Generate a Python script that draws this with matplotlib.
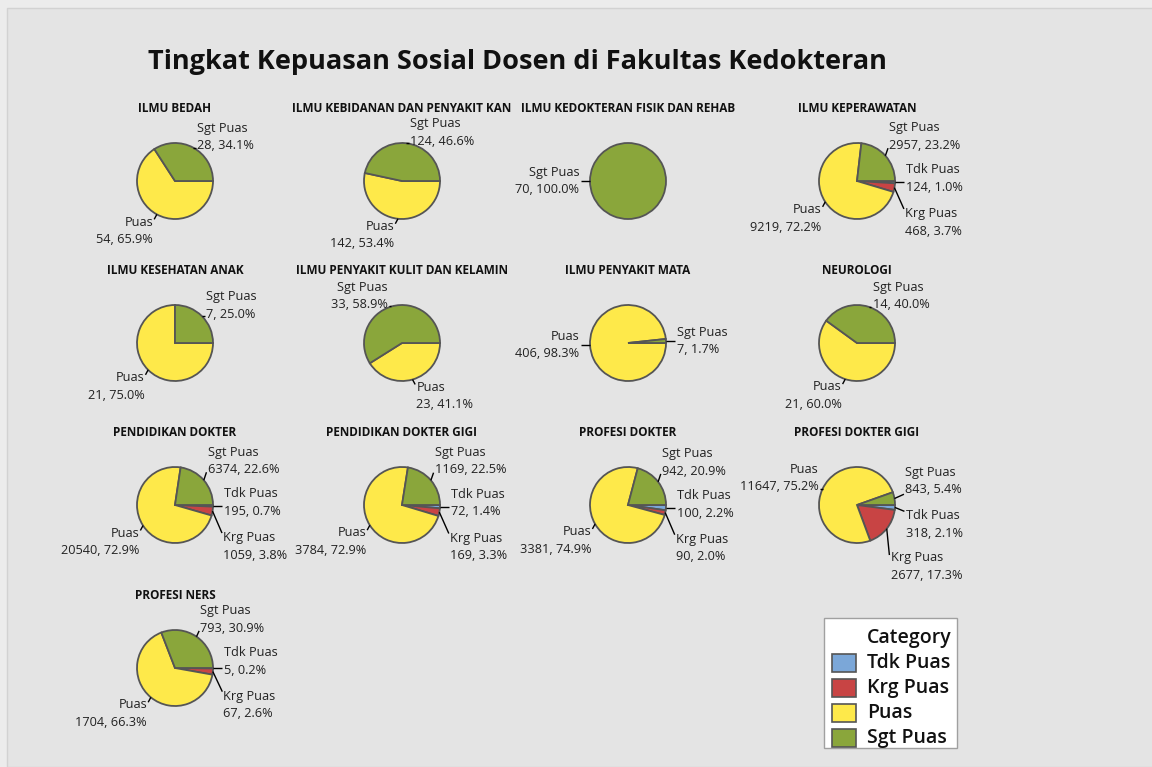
import numpy as np
import matplotlib.pyplot as plt
from matplotlib.patches import Rectangle

plt.rcParams['font.family'] = ['Open Sans', 'DejaVu Sans']

# data: counts per study program, category order Tdk, Krg, Puas, Sgt
programs = [
    "ILMU BEDAH", "ILMU KEBIDANAN DAN PENYAKIT KAN", "ILMU KEDOKTERAN FISIK DAN REHAB",
    "ILMU KEPERAWATAN", "ILMU KESEHATAN ANAK", "ILMU PENYAKIT KULIT DAN KELAMIN",
    "ILMU PENYAKIT MATA", "NEUROLOGI", "PENDIDIKAN DOKTER", "PENDIDIKAN DOKTER GIGI",
    "PROFESI DOKTER", "PROFESI DOKTER GIGI", "PROFESI NERS",
]
categories = ["Tdk Puas", "Krg Puas", "Puas", "Sgt Puas"]
tdk_puas = [0, 0, 0, 124, 0, 0, 0, 0, 195, 72, 100, 318, 5]
krg_puas = [0, 0, 0, 468, 0, 0, 0, 0, 1059, 169, 90, 2677, 67]
puas = [54, 142, 0, 9219, 21, 23, 406, 21, 20540, 3784, 3381, 11647, 1704]
sgt_puas = [28, 124, 70, 2957, 7, 33, 7, 14, 6374, 1169, 942, 843, 793]
colors = ["#7ba7d8", "#c84444", "#fee94a", "#8aa63b"]

W, H = 1152, 767
R = 38.0            # pie radius in px
AW, AH = 226, 162   # axes size in px
col_x = [175, 402, 628, 857]
row_y = [181, 343, 505, 668]
LABEL_FS = 9.2
BOX_H = 0.9
GAP = 0.25

fig = plt.figure(figsize=(W / 100, H / 100), dpi=100)
fig.patch.set_facecolor("#ececec")
fig.add_artist(Rectangle((7 / W, 0), 1, 1 - 8 / H, transform=fig.transFigure,
                         facecolor="#e4e4e4", edgecolor="#d2d2d2", lw=1, zorder=-5))

fig.text(517 / W, 1 - 62 / H, "Tingkat Kepuasan Sosial Dosen di Fakultas Kedokteran",
         ha="center", va="center", fontsize=19.5, fontweight="bold", color="#111111")


def draw_labels(ax, vals):
    total = float(sum(vals))
    items = []
    cum = 0.0
    for name, v in zip(categories, vals):
        if v == 0:
            continue
        frac = v / total
        mid = -(cum + frac / 2) * 2 * np.pi
        cum += frac
        c, s = np.cos(mid), np.sin(mid)
        side = 1 if c >= 0 else -1
        if s > 0.35:
            mode, x, y = "bottom", c + 0.1 * side, s - 0.12
            lo, hi = y, y + BOX_H
        elif s < -0.35:
            mode, x, y = "top", c + 0.1 * side, s - 0.03
            lo, hi = y - BOX_H, y
        else:
            mode, x, y = "center", c + 0.28 * side, s
            lo, hi = y - BOX_H / 2, y + BOX_H / 2
        txt = f"{name}\n{v}, {frac * 100:.1f}%"
        items.append(dict(txt=txt, c=c, s=s, side=side, mode=mode, x=x, y=y, lo=lo, hi=hi))

    # spread overlapping labels on each side
    for side in (1, -1):
        grp = sorted([it for it in items if it["side"] == side],
                     key=lambda it: -(it["lo"] + it["hi"]))
        for _ in range(60):
            for up, dn in zip(grp[:-1], grp[1:]):
                ov = dn["hi"] + GAP - up["lo"]
                if ov > 0:
                    w = 0.4 if (up["mode"] == "center" and dn["mode"] == "center") else 0.3
                    for it, d in ((up, ov * w), (dn, -ov * (1 - w))):
                        it["y"] += d
                        it["lo"] += d
                        it["hi"] += d

    for it in items:
        ha = "left" if it["side"] > 0 else "right"
        ax.text(it["x"], it["y"], it["txt"], ha=ha, va=it["mode"], multialignment=ha,
                fontsize=LABEL_FS, linespacing=1.45, color="#222222")
        ey = min(max(it["s"], it["lo"] + 0.1), it["hi"] - 0.1)
        ax.plot([it["c"], it["x"] - 0.03 * it["side"]], [it["s"], ey],
                color="black", lw=1.0, solid_capstyle="butt")


for i, prog in enumerate(programs):
    r, cidx = divmod(i, 4)
    cx, cy = col_x[cidx], row_y[r]
    ax = fig.add_axes([(cx - AW / 2) / W, 1 - (cy + AH / 2) / H, AW / W, AH / H])
    vals = [tdk_puas[i], krg_puas[i], puas[i], sgt_puas[i]]
    nz = [(v, col) for v, col in zip(vals, colors) if v > 0]
    ax.pie([v for v, _ in nz], colors=[col for _, col in nz], startangle=0,
           counterclock=False, radius=1,
           wedgeprops=dict(edgecolor="#555555", linewidth=1.3))
    ax.set_xlim(-AW / 2 / R, AW / 2 / R)
    ax.set_ylim(-AH / 2 / R, AH / 2 / R)
    ax.set_aspect("equal")
    ax.axis("off")
    ax.text(0, 1.92, prog, ha="center", va="center", fontsize=8.5,
            fontweight="bold", color="#111111")
    draw_labels(ax, vals)

# legend drawn by hand in pixel coordinates
lax = fig.add_axes([0, 0, 1, 1], zorder=5)
lax.set_xlim(0, W)
lax.set_ylim(H, 0)
lax.axis("off")
lax.add_patch(Rectangle((824, 618), 133, 130, facecolor="white", edgecolor="#a0a0a0", lw=1))
lax.text(867, 638, "Category", ha="left", va="center", fontsize=14,
         fontweight="semibold", color="#111111")
for k, (cat, col) in enumerate(zip(categories, colors)):
    yy = 663 + 25 * k
    lax.add_patch(Rectangle((832, yy - 9), 24, 18, facecolor=col, edgecolor="#555555", lw=1.2))
    lax.text(867, yy, cat, ha="left", va="center", fontsize=14,
             fontweight="semibold", color="#111111")

fig.savefig("out.png", dpi=100)
